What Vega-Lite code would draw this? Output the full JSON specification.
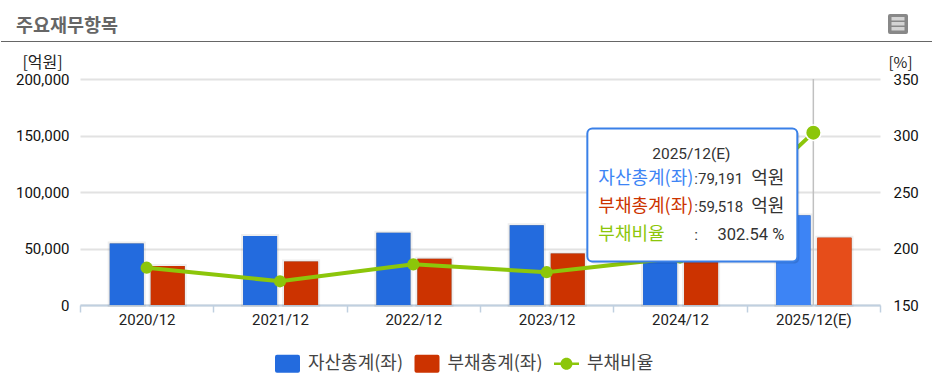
{"$schema":"https://vega.github.io/schema/vega-lite/v6.json","width":800,"height":226,"autosize":{"type":"none"},"padding":{"left":80,"top":79,"right":52,"bottom":71},"background":"#ffffff",
"config":{"view":{"stroke":null},"font":"Roboto, Noto Sans CJK KR","text":{"font":"Roboto, Noto Sans CJK KR"}},
"title":{"text":"주요재무항목","anchor":"start","frame":"group","font":"Noto Sans CJK KR","fontSize":18.5,"fontWeight":"bold","color":"#666666","dx":-64,"dy":36,"baseline":"alphabetic","offset":0},
"datasets":{
"bars":[
{"period":"2020/12","series":"자산총계(좌)","value":54500},{"period":"2020/12","series":"부채총계(좌)","value":34500},
{"period":"2021/12","series":"자산총계(좌)","value":61000},{"period":"2021/12","series":"부채총계(좌)","value":38500},
{"period":"2022/12","series":"자산총계(좌)","value":64000},{"period":"2022/12","series":"부채총계(좌)","value":41000},
{"period":"2023/12","series":"자산총계(좌)","value":70500},{"period":"2023/12","series":"부채총계(좌)","value":45500},
{"period":"2024/12","series":"자산총계(좌)","value":75000},{"period":"2024/12","series":"부채총계(좌)","value":52000},
{"period":"2025/12(E)","series":"자산총계(좌)","value":79191},{"period":"2025/12(E)","series":"부채총계(좌)","value":59518}],
"ratio":[{"period":"2020/12","series":"부채비율","value":183},{"period":"2021/12","series":"부채비율","value":171},{"period":"2022/12","series":"부채비율","value":186},{"period":"2023/12","series":"부채비율","value":179},{"period":"2024/12","series":"부채비율","value":192},{"period":"2025/12(E)","series":"부채비율","value":302.54}],
"tip":[{"period":"2025/12(E)","header":"2025/12(E)","a":"자산총계(좌)","av":":79,191","b":"부채총계(좌)","bv":":59,518","c":"부채비율","cv":"302.54 %","colon":":","unit":"억원"}],
"legendRows":[{"series":"자산총계(좌)"},{"series":"부채총계(좌)"},{"series":"부채비율"}]
},
"encoding":{"x":{"field":"period","type":"nominal","sort":null,"scale":{"domain":["2020/12","2021/12","2022/12","2023/12","2024/12","2025/12(E)"],"paddingInner":0,"paddingOuter":0},"axis":{"title":null,"labelFontSize":15,"labelColor":"#222222","labelAngle":0,"labelAlign":"center","labelBaseline":"top","labelPadding":0,"tickBand":"extent","tickSize":7,"tickColor":"#c0d0e0","tickWidth":1.5,"domainColor":"#c0d0e0","domainWidth":2,"grid":false,"labelFlush":false}}},
"layer":[
{"data":{"name":"bars"},"encoding":{"y":{"field":"value","type":"quantitative","scale":{"domain":[0,200000],"nice":false},"axis":{"title":"[억원]","titleAngle":0,"titleFontSize":16,"titleFontWeight":"normal","titleColor":"#222222","titleFont":"Noto Sans CJK KR","titleX":-38,"titleY":-12,"titleAlign":"center","titleBaseline":"alphabetic","values":[0,50000,100000,150000,200000],"labelExpr":"format(datum.value,',')","labelFontSize":15,"labelColor":"#111111","labelPadding":11,"tickSize":0,"domain":false,"grid":true,"gridColor":"#e2e2e2","gridWidth":2}}},"layer":[
{"mark":{"type":"bar","color":"#777777","stroke":"#555555","strokeWidth":4,"strokeOpacity":0.1},"encoding":{"xOffset":{"field":"series","scale":{"domain":["자산총계(좌)","부채총계(좌)"],"paddingInner":0.17,"paddingOuter":0.711,"align":0.51}}}},
{"mark":{"type":"bar"},"encoding":{"xOffset":{"field":"series"},"color":{"field":"series","type":"nominal","scale":{"domain":["자산총계(좌)","부채총계(좌)","부채비율"],"range":["#236bde","#cc3300","#8cc60a"]},"legend":{"title":null,"orient":"none","legendX":195,"legendY":272,"direction":"horizontal","columns":3,"columnPadding":11.5,"symbolSize":625,"symbolStrokeWidth":0,"symbolOpacity":1,"labelFontSize":18,"labelFont":"Noto Sans CJK KR","labelColor":"#444444","labelOffset":8,"labelLimit":200}}}},
{"transform":[{"filter":"datum.period=='2025/12(E)'"}],"mark":{"type":"bar"},"encoding":{"xOffset":{"field":"series"},"fill":{"condition":{"test":"datum.series=='자산총계(좌)'","value":"#3d84f5"},"value":"#e64d1a"}}},
{"transform":[{"filter":"datum.period=='2025/12(E)' && datum.series=='자산총계(좌)'"}],"mark":{"type":"rule","color":"#c0c0c0","strokeWidth":1.5},"encoding":{"y":{"value":0},"y2":{"value":226}}}
]},
{"data":{"name":"ratio"},"encoding":{"y":{"field":"value","type":"quantitative","scale":{"domain":[150,350],"nice":false},"axis":{"orient":"right","title":"[%]","titleAngle":0,"titleFontSize":15,"titleFontWeight":"normal","titleColor":"#222222","titleFont":"Noto Sans CJK KR","titleX":20,"titleY":-12,"titleAlign":"center","titleBaseline":"alphabetic","values":[150,200,250,300,350],"labelFontSize":15,"labelColor":"#111111","labelPadding":13,"tickSize":0,"domain":false,"grid":false}}},"layer":[
{"mark":{"type":"line","color":"#8cc60a","strokeWidth":4}},
{"transform":[{"filter":"datum.period!='2025/12(E)'"}],"mark":{"type":"point","filled":true,"color":"#8cc60a","size":150,"opacity":1}},
{"transform":[{"filter":"datum.period=='2025/12(E)'"}],"mark":{"type":"point","filled":true,"fill":"#8cc60a","stroke":"#ffffff","strokeWidth":1.5,"size":240,"opacity":1}}
]},
{"data":{"name":"tip"},"encoding":{"y":{"datum":100000,"type":"quantitative","scale":{"domain":[0,200000],"nice":false},"axis":null}},"layer":[
{"mark":{"type":"rect","width":210,"height":133,"xOffset":-119,"yOffset":5,"cornerRadius":5,"fill":"#000000","opacity":0.12}},
{"mark":{"type":"rect","width":210,"height":133,"xOffset":-121,"yOffset":3,"cornerRadius":5,"fill":"#ffffff","stroke":"#3a80e8","strokeWidth":2}},
{"mark":{"type":"text","align":"center","baseline":"middle","dx":-122,"dy":-38,"fontSize":15.5,"color":"#333333"},"encoding":{"text":{"field":"header"}}},
{"mark":{"type":"text","align":"left","baseline":"middle","dx":-215,"dy":-13,"fontSize":18,"font":"Noto Sans CJK KR","color":"#3d84f5"},"encoding":{"text":{"field":"a"}}},
{"mark":{"type":"text","align":"left","baseline":"middle","dx":-215,"dy":15,"fontSize":18,"font":"Noto Sans CJK KR","color":"#cc3300"},"encoding":{"text":{"field":"b"}}},
{"mark":{"type":"text","align":"left","baseline":"middle","dx":-215,"dy":43,"fontSize":18,"font":"Noto Sans CJK KR","color":"#8cc60a"},"encoding":{"text":{"field":"c"}}},
{"mark":{"type":"text","align":"left","baseline":"middle","dx":-119,"dy":-13,"fontSize":15,"color":"#333333"},"encoding":{"text":{"field":"av"}}},
{"mark":{"type":"text","align":"left","baseline":"middle","dx":-119,"dy":15,"fontSize":15,"color":"#333333"},"encoding":{"text":{"field":"bv"}}},
{"mark":{"type":"text","align":"left","baseline":"middle","dx":-119,"dy":43,"fontSize":15.5,"color":"#333333"},"encoding":{"text":{"field":"colon"}}},
{"mark":{"type":"text","align":"right","baseline":"middle","dx":-29,"dy":-13,"fontSize":18,"font":"Noto Sans CJK KR","color":"#333333"},"encoding":{"text":{"field":"unit"}}},
{"mark":{"type":"text","align":"right","baseline":"middle","dx":-29,"dy":15,"fontSize":18,"font":"Noto Sans CJK KR","color":"#333333"},"encoding":{"text":{"field":"unit"}}},
{"mark":{"type":"text","align":"right","baseline":"middle","dx":-29,"dy":43,"fontSize":16.5,"color":"#333333"},"encoding":{"text":{"field":"cv"}}}
]},
{"data":{"name":"legendRows"},"transform":[{"filter":"datum.series=='없음'"}],"mark":{"type":"point","filled":true},"encoding":{"x":{"value":0},"y":{"value":0},"shape":{"field":"series","type":"nominal","scale":{"domain":["자산총계(좌)","부채총계(좌)","부채비율"],"range":["M-0.84,-0.72H0.84Q1,-0.72 1,-0.56V0.56Q1,0.72 0.84,0.72H-0.84Q-1,0.72 -1,0.56V-0.56Q-1,-0.72 -0.84,-0.72Z","M-0.84,-0.72H0.84Q1,-0.72 1,-0.56V0.56Q1,0.72 0.84,0.72H-0.84Q-1,0.72 -1,0.56V-0.56Q-1,-0.72 -0.84,-0.72Z","M-1,-0.1H1V0.1H-1ZM-0.48,0A0.48,0.48 0 1 1 0.48,0A0.48,0.48 0 1 1 -0.48,0Z"]},"legend":{"title":null,"orient":"none","legendX":195,"legendY":272,"direction":"horizontal","columns":3,"columnPadding":11.5,"symbolSize":625,"symbolStrokeWidth":0,"symbolOpacity":1,"labelFontSize":18,"labelFont":"Noto Sans CJK KR","labelColor":"#444444","labelOffset":8,"labelLimit":200}}}},
{"data":{"values":[{"item":"header"}]},"layer":[
{"mark":{"type":"rule","color":"#666666","strokeWidth":1},"encoding":{"x":{"value":-79},"x2":{"value":852},"y":{"value":-37.5}}},
{"mark":{"type":"point","filled":true,"fill":"#888888","opacity":1,"size":400,"shape":"M-0.8,-1H0.8Q1,-1 1,-0.8V0.8Q1,1 0.8,1H-0.8Q-1,1 -1,0.8V-0.8Q-1,-1 -0.8,-1Z"},"encoding":{"x":{"value":818},"y":{"value":-55}}},
{"mark":{"type":"point","filled":true,"fill":"#d4d4d4","opacity":1,"size":400,"shape":"M-0.65,-0.7H0.65V-0.35H-0.65ZM-0.65,-0.2H0.65V0.15H-0.65ZM-0.65,0.3H0.65V0.65H-0.65Z"},"encoding":{"x":{"value":818},"y":{"value":-55}}}
]}
],
"resolve":{"scale":{"y":"independent"},"axis":{"y":"independent"}}
}
